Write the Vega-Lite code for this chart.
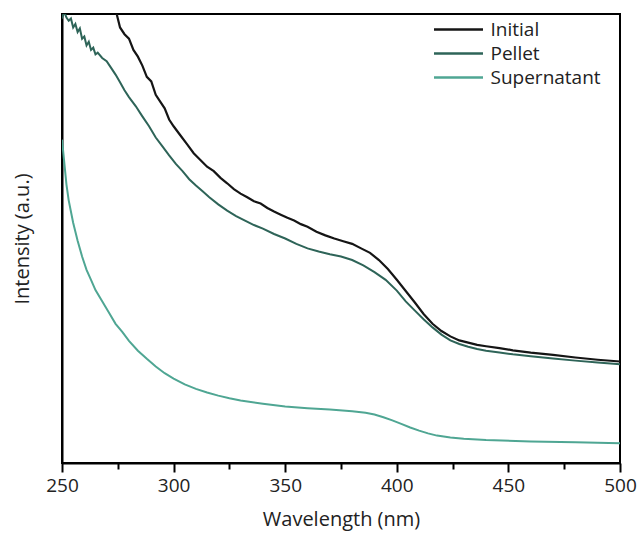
{
  "$schema": "https://vega.github.io/schema/vega-lite/v6.json",
  "width": 558,
  "height": 449,
  "autosize": "none",
  "padding": {"left": 62, "top": 14, "right": 21, "bottom": 70},
  "background": "white",
  "config": {
    "view": {"stroke": "black", "strokeWidth": 2},
    "font": "Open Sans"
  },
  "datasets": {
    "Initial": [[274,101],[276,97],[278,95.5],[280,94.5],[282,92],[284,90.5],[286,88.5],[288,86],[290,85],[292,82],[294,80.5],[296,79],[298,76.5],[300,75],[303,73],[306,71],[309,69],[312,67.5],[315,66],[318,65],[321,63.5],[324,62.3],[327,61],[330,60],[333,59.2],[336,58.3],[339,57.8],[342,56.8],[345,56],[348,55.3],[351,54.6],[354,54],[357,53.2],[360,52.6],[364,51.5],[368,50.7],[372,50],[376,49.4],[380,48.8],[384,47.8],[388,46.8],[392,45.2],[396,43.2],[400,40.8],[404,38.3],[408,35.8],[412,33.2],[416,31],[420,29.4],[424,28.2],[428,27.3],[432,26.8],[436,26.3],[440,26],[446,25.6],[452,25.1],[460,24.6],[470,24.1],[480,23.5],[490,23],[500,22.6]],
    "Pellet": [[250,99],[251,100.5],[252,99.2],[253,98.5],[254,99],[255,97],[256,97.8],[257,96],[258,96.8],[259,94.5],[260,95],[261,93],[262,93.8],[263,92],[264,92.5],[265,91],[266,91.4],[268,90.2],[270,89.5],[272,88],[274,86.5],[276,84.8],[278,83],[280,81.5],[283,79.5],[286,77.2],[289,75],[292,72.5],[295,70.5],[298,68.5],[301,66.6],[304,65],[307,63.2],[310,61.8],[313,60.5],[316,59.2],[320,57.6],[324,56.2],[328,55],[332,54],[336,53],[340,52.2],[345,51],[350,50],[355,48.8],[360,47.8],[365,47.1],[370,46.5],[375,46],[380,45.2],[385,44],[390,42.5],[395,40.8],[400,38.4],[404,36],[408,34],[412,32],[416,30.2],[420,28.6],[424,27.3],[428,26.5],[432,25.9],[436,25.4],[440,25],[446,24.6],[452,24.2],[460,23.8],[470,23.3],[480,22.8],[490,22.4],[500,22]],
    "Supernatant": [[250,72],[251,67],[252,62],[253,58.5],[255,53.5],[257,49.5],[259,46],[261,43],[263,40.8],[265,38.5],[268,36],[271,33.5],[274,31],[277,29.2],[280,27.2],[284,25],[288,23.2],[292,21.5],[296,20],[300,18.8],[305,17.5],[310,16.5],[315,15.7],[320,15],[325,14.4],[330,13.9],[340,13.2],[350,12.6],[360,12.2],[370,11.9],[380,11.5],[386,11.2],[390,10.8],[394,10.2],[398,9.5],[402,8.7],[406,7.9],[410,7.2],[414,6.6],[418,6.1],[424,5.7],[430,5.4],[440,5.1],[460,4.8],[480,4.6],[500,4.4]]
  },
  "layer": [
    {
      "data": {"name": "Supernatant"},
      "transform": [{"calculate": "'Supernatant'", "as": "series"}, {"calculate": "datum[0]", "as": "wl"}, {"calculate": "datum[1]", "as": "v"}],
      "mark": {"type": "line", "strokeWidth": 2, "clip": true},
      "encoding": {
        "x": {"field": "wl", "type": "quantitative"},
        "y": {"field": "v", "type": "quantitative"},
        "color": {"field": "series", "type": "nominal"}
      }
    },
    {
      "data": {"name": "Pellet"},
      "transform": [{"calculate": "'Pellet'", "as": "series"}, {"calculate": "datum[0]", "as": "wl"}, {"calculate": "datum[1]", "as": "v"}],
      "mark": {"type": "line", "strokeWidth": 2, "clip": true},
      "encoding": {
        "x": {"field": "wl", "type": "quantitative"},
        "y": {"field": "v", "type": "quantitative"},
        "color": {"field": "series", "type": "nominal"}
      }
    },
    {
      "data": {"name": "Initial"},
      "transform": [{"calculate": "'Initial'", "as": "series"}, {"calculate": "datum[0]", "as": "wl"}, {"calculate": "datum[1]", "as": "v"}],
      "mark": {"type": "line", "strokeWidth": 2.2, "clip": true},
      "encoding": {
        "x": {
          "field": "wl", "type": "quantitative",
          "scale": {"domain": [250, 500], "nice": false},
          "axis": {
            "title": "Wavelength (nm)",
            "values": [250, 275, 300, 325, 350, 375, 400, 425, 450, 475, 500],
            "labelExpr": "datum.value % 50 === 0 ? datum.label : ''",
            "tickSize": {"condition": {"test": "datum.value % 50 === 0", "value": 9}, "value": 6},
            "tickColor": "black",
            "tickWidth": 2,
            "domainColor": "black",
            "domainWidth": 2,
            "grid": false,
            "labelFontSize": 19,
            "labelColor": "#222",
            "labelPadding": 4,
            "labelFlush": false,
            "labelFont": "Open Sans",
            "titleFont": "Open Sans",
            "titleFontSize": 20,
            "titleFontWeight": "normal",
            "titleColor": "#222",
            "titlePadding": 14
          }
        },
        "y": {
          "field": "v", "type": "quantitative",
          "scale": {"domain": [0, 100], "nice": false},
          "axis": {
            "title": "Intensity (a.u.)",
            "labels": false,
            "ticks": false,
            "grid": false,
            "domainColor": "black",
            "domainWidth": 2,
            "titleFont": "Open Sans",
            "titleFontSize": 20,
            "titleFontWeight": "normal",
            "titleColor": "#222",
            "titlePadding": 30
          }
        },
        "color": {
          "field": "series", "type": "nominal",
          "scale": {"domain": ["Initial", "Pellet", "Supernatant"], "range": ["#151515", "#2e6458", "#4fa693"]},
          "legend": {
            "title": null,
            "orient": "none",
            "legendX": 383,
            "legendY": 2,
            "padding": 0,
            "symbolType": "M-2,0H2",
            "symbolSize": 600,
            "symbolStrokeWidth": 2.5,
            "symbolFillColor": "transparent",
            "labelFont": "Open Sans",
            "labelFontSize": 19,
            "labelColor": "#222",
            "labelOffset": 18.5,
            "rowPadding": 0
          }
        }
      }
    }
  ]
}
